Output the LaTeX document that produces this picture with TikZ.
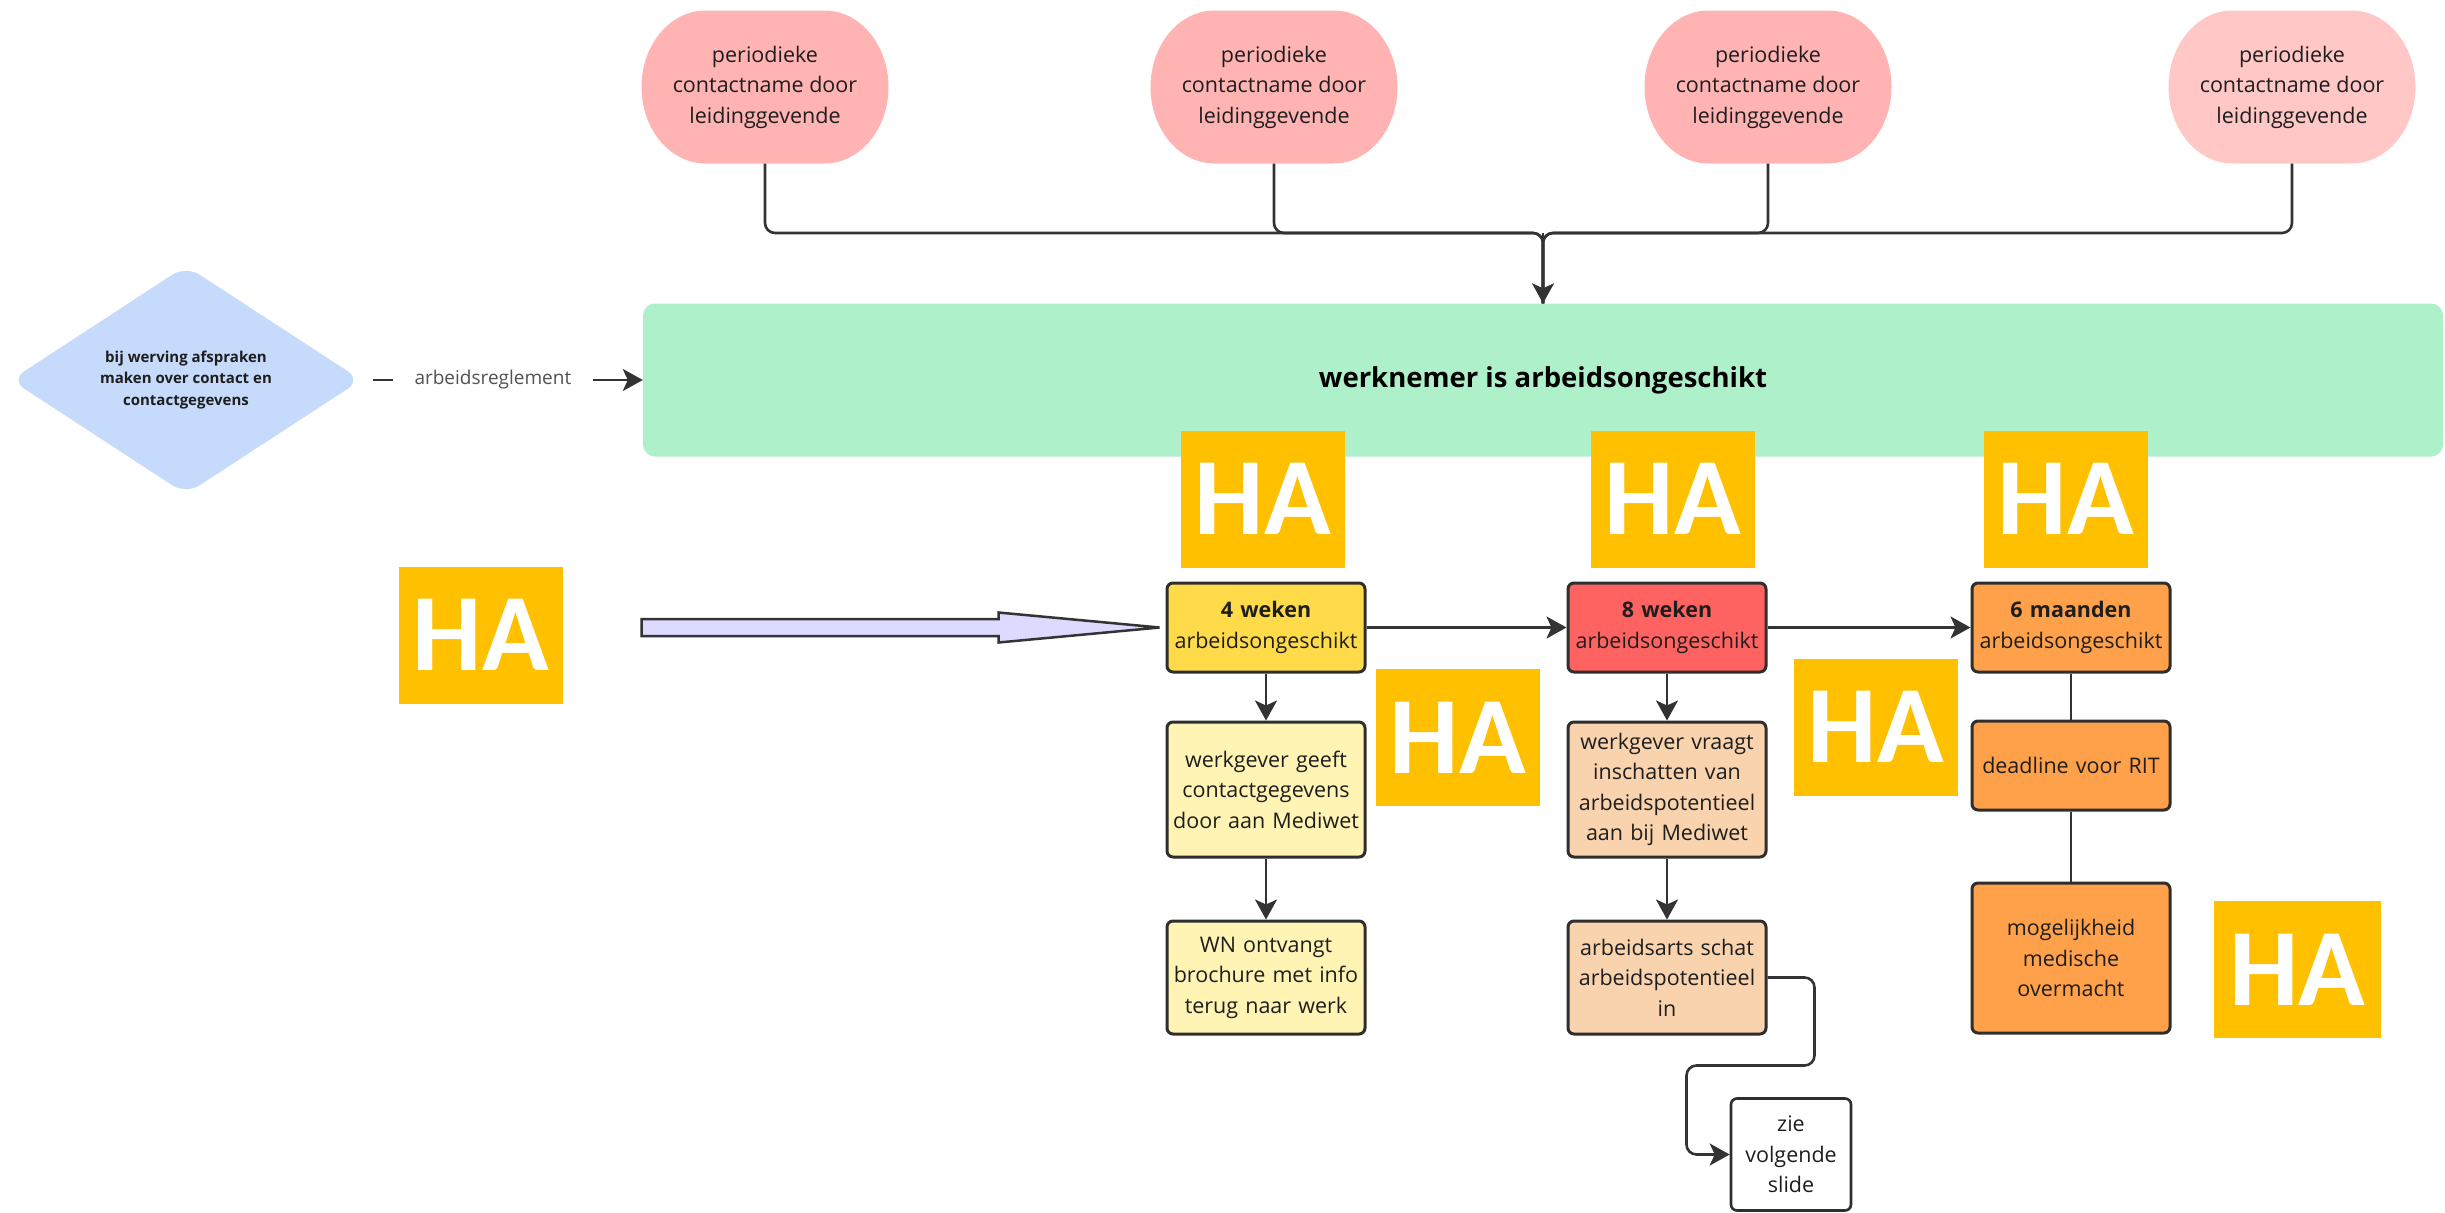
\documentclass[tikz,border=0pt]{standalone}
\usepackage{fontspec}
\setmainfont{Open Sans}
\newfontfamily\hafont{Carlito}
\usetikzlibrary{arrows.meta,calc}

\definecolor{pinkA}{HTML}{FFB3B3}
\definecolor{pinkB}{HTML}{FFC7C6}
\definecolor{mint}{HTML}{AEF0C9}
\definecolor{skyb}{HTML}{C6DBFC}
\definecolor{yel}{HTML}{FFDB4A}
\definecolor{lyel}{HTML}{FFF4B3}
\definecolor{redA}{HTML}{FF6361}
\definecolor{peach}{HTML}{F8D3AD}
\definecolor{orng}{HTML}{FFA14A}
\definecolor{haor}{HTML}{FFC000}
\definecolor{lav}{HTML}{DCDAFF}
\definecolor{ink}{HTML}{333333}
\definecolor{txtc}{HTML}{1E1E1E}

% oval blob: half width 123.5, half height 76.5, corner x radius 64
\newcommand\ovalfill[2]{%
  \fill[#2, shift={#1}] (-59.5,-76.5) -- (59.5,-76.5)
    .. controls (94.85,-76.5) and (123.5,-42.25) .. (123.5,0)
    .. controls (123.5,42.25) and (94.85,76.5) .. (59.5,76.5)
    -- (-59.5,76.5)
    .. controls (-94.85,76.5) and (-123.5,42.25) .. (-123.5,0)
    .. controls (-123.5,-42.25) and (-94.85,-76.5) .. (-59.5,-76.5) -- cycle;}

\begin{document}
\begin{tikzpicture}[x=1pt,y=-1pt,
  txt/.style={font=\fontsize{21.5}{30.5}\selectfont, align=center, text=txtc},
  oval/.style={txt, inner sep=0pt, minimum width=247pt, minimum height=153pt},
  stepbox/.style={txt, draw=ink!90!black, line width=3pt, rounded corners=6pt,
     minimum width=198pt, text width=194pt, inner sep=0pt},
  hab/.style={fill=haor, minimum width=164pt, minimum height=137pt, inner sep=0pt,
     text=white, font=\hafont\bfseries\fontsize{110}{110}\selectfont},
  conn/.style={draw=ink, line width=2.6pt},
  arr/.style={conn, -{Stealth[length=20pt,width=22pt,inset=5pt]}}
]
\useasboundingbox (0,0) rectangle (2445,1213);

% top ovals
\ovalfill{(765,87)}{pinkA}
\ovalfill{(1274,87)}{pinkA}
\ovalfill{(1768,87)}{pinkA}
\ovalfill{(2292,87)}{pinkB}
\node[oval] (e1) at (765,87) {periodieke\\contactname door\\leidinggevende};
\node[oval] (e2) at (1274,87) {periodieke\\contactname door\\leidinggevende};
\node[oval] (e3) at (1768,87) {periodieke\\contactname door\\leidinggevende};
\node[oval] (e4) at (2292,87) {periodieke\\contactname door\\leidinggevende};

% main green box
\node[fill=mint, rounded corners=12pt, minimum width=1800pt, minimum height=153pt,
      font=\bfseries\fontsize{27.5}{32}\selectfont, text=black] (g) at (1543,380)
      {werknemer is arbeidsongeschikt};

% bus
\coordinate (j) at (1543,233);
\foreach \e in {e1,e2,e3,e4}
  \draw[conn, rounded corners=10pt] (\e.south) |- (j) -- (g.north);
\draw[arr] (j) -- (g.north);

% diamond
\node[minimum width=350pt, minimum height=228pt, inner sep=0pt] (d) at (186,380) {};
\fill[skyb, rounded corners=16pt] (d.north) -- (d.east) -- (d.south) -- (d.west) -- cycle;
\node[font=\bfseries\fontsize{15}{21.5}\selectfont, align=center, text=txtc] at (d.center)
  {bij werving afspraken\\maken over contact en\\contactgegevens};
\draw[arr] ([xshift=12pt]d.east) -- node[pos=0.444, fill=white, inner xsep=22pt, inner ysep=2pt,
   font=\fontsize{19}{21}\selectfont, text=ink!85] {arbeidsreglement} (g.west);

% steps column 1
\node[stepbox, fill=yel, minimum height=89pt] (s4w) at (1266,627.5)
  {{\bfseries 4 weken}\\arbeidsongeschikt};
\node[stepbox, fill=lyel, minimum height=135pt] (wg) at (1266,789.5)
  {werkgever geeft\\contactgegevens\\door aan Mediwet};
\node[stepbox, fill=lyel, minimum height=113pt] (wn) at (1266,977.5)
  {WN ontvangt\\brochure met info\\terug naar werk};

% column 2
\node[stepbox, fill=redA, minimum height=89pt] (s8w) at (1667,627.5)
  {{\bfseries 8 weken}\\arbeidsongeschikt};
\node[stepbox, fill=peach, minimum height=135pt] (wv) at (1667,789.5)
  {werkgever vraagt\\inschatten van\\arbeidspotentieel\\aan bij Mediwet};
\node[stepbox, fill=peach, minimum height=113pt] (aa) at (1667,977.5)
  {arbeidsarts schat\\arbeidspotentieel\\in};

% column 3
\node[stepbox, fill=orng, minimum height=89pt] (s6m) at (2071,627.5)
  {{\bfseries 6 maanden}\\arbeidsongeschikt};
\node[stepbox, fill=orng, minimum height=89pt] (dl) at (2071,765.5)
  {deadline voor RIT};
\node[stepbox, fill=orng, minimum height=150pt] (mm) at (2071,958)
  {mogelijkheid\\medische\\overmacht};

% next slide
\node[stepbox, fill=white, minimum width=120pt, text width=116pt, minimum height=112pt,
      line width=2.6pt] (zie) at (1791,1154.5) {zie\\volgende\\slide};

% connectors
\draw[arr] (s4w) -- (s8w);
\draw[arr] (s8w) -- (s6m);
\draw[arr] (s4w) -- (wg);
\draw[arr] (wg) -- (wn);
\draw[arr] (s8w) -- (wv);
\draw[arr] (wv) -- (aa);
\draw[conn] (s6m) -- (dl);
\draw[conn] (dl) -- (mm);
\draw[arr, rounded corners=10pt] (aa.east) -- ++(47,0) -- ++(0,88) -- ++(-128,0) |- (zie.west);

% big hollow arrow
\coordinate (tip) at ($(s4w.west)+(-6,0)$);
\filldraw[fill=lav, draw=ink, line width=2.5pt, line join=miter]
  ($(tip)+(-518,-8.5)$) -- ($(tip)+(-161,-8.5)$) -- ($(tip)+(-161,-15)$) -- (tip)
  -- ($(tip)+(-161,15)$) -- ($(tip)+(-161,8.5)$) -- ($(tip)+(-518,8.5)$) -- cycle;

% HA labels
\node[hab] (ha1) at (1263,499) {HA};
\node[hab] (ha2) at (1673,499) {HA};
\node[hab] (ha3) at (2066,499) {HA};
\node[hab] (ha4) at (481,635) {HA};
\node[hab] (ha5) at (1458,737.5) {HA};
\node[hab] (ha6) at (1876,727) {HA};
\node[hab, minimum width=167pt] (ha7) at (2297.5,969.5) {HA};
\end{tikzpicture}
\end{document}
